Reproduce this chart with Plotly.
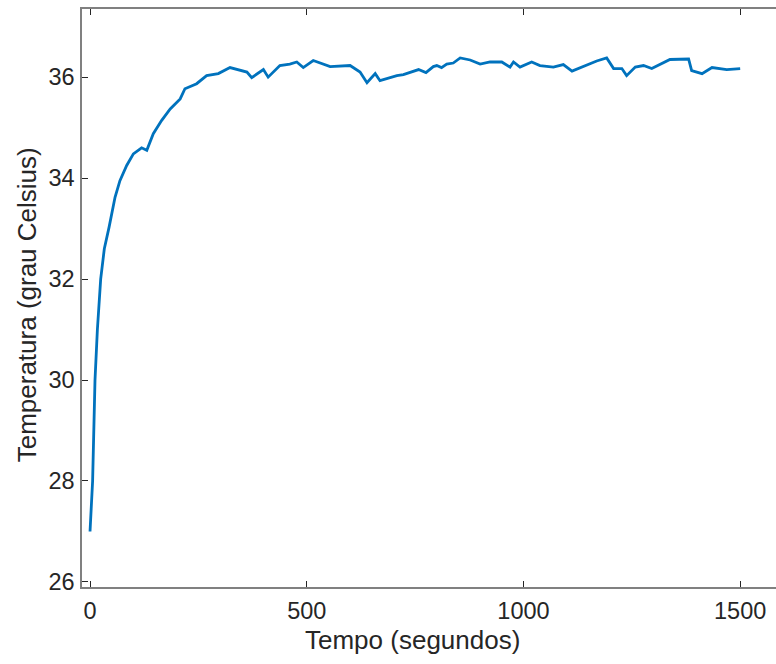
import plotly.graph_objects as go

# Temperature readings
tempo = [0, 6, 11.5, 17, 24.6, 33, 44, 57.7, 69, 84.6, 100, 119, 131, 146, 165, 185,
         208, 219, 246, 269, 296, 323, 362, 373, 400, 411, 438, 461, 477, 492, 515,
         554, 600, 623, 639, 658, 669, 708, 723, 754, 758, 775, 792, 800, 811, 823,
         838, 854, 877, 900, 923, 950, 969, 977, 992, 1019, 1038, 1069, 1092, 1112,
         1139, 1169, 1192, 1208, 1227, 1238, 1258, 1277, 1296, 1338, 1381, 1388,
         1412, 1435, 1469, 1500]
temperatura = [27.0, 28.0, 30.0, 31.0, 32.0, 32.6, 33.03, 33.62, 33.95, 34.25, 34.48,
               34.6, 34.55, 34.88, 35.14, 35.37, 35.57, 35.77, 35.87, 36.03, 36.07,
               36.19, 36.10, 35.99, 36.15, 36.00, 36.23, 36.26, 36.30, 36.19, 36.33,
               36.21, 36.23, 36.10, 35.89, 36.07, 35.93, 36.03, 36.05, 36.13, 36.15,
               36.09, 36.21, 36.23, 36.19, 36.26, 36.28, 36.38, 36.34, 36.26, 36.30,
               36.30, 36.20, 36.30, 36.20, 36.30, 36.23, 36.20, 36.25, 36.12, 36.21,
               36.32, 36.38, 36.17, 36.17, 36.03, 36.20, 36.23, 36.17, 36.35, 36.36,
               36.13, 36.07, 36.19, 36.15, 36.17]

x_ticks = [0, 500, 1000, 1500]
y_ticks = [26, 28, 30, 32, 34, 36]

FONT = "Liberation Sans, Arial, Helvetica, sans-serif"
TXT = "#262626"

fig = go.Figure()
fig.add_trace(go.Scatter(
    x=tempo, y=temperatura, mode="lines",
    line=dict(color="#0072BD", width=2.8),
))

axis_common = dict(
    showgrid=False, zeroline=False, showline=True,
    linecolor="#808080", linewidth=1.5,
    ticks="inside", ticklen=6, tickwidth=1, tickcolor=TXT,
    tickfont=dict(family=FONT, size=23.5, color=TXT),
)

# the axes box runs past the right edge of the window, as in the reference
fig.update_xaxes(range=[-18.5, 1638], tickvals=x_ticks, mirror="ticks",
                 ticklabelstandoff=2, **axis_common)
fig.update_yaxes(range=[25.9, 37.35], tickvals=y_ticks, mirror=False,
                 ticklabelstandoff=1, **axis_common)

fig.update_layout(
    width=800, height=664,
    margin=dict(l=82, r=0, t=9, b=77),
    plot_bgcolor="white", paper_bgcolor="white",
    showlegend=False,
    annotations=[
        dict(text="Tempo (segundos)", xref="x", yref="paper",
             x=745, y=-0.092, xanchor="center", yanchor="middle",
             showarrow=False, font=dict(family=FONT, size=26, color=TXT)),
        dict(text="Temperatura (grau Celsius)", xref="paper", yref="paper",
             x=-0.0761, y=0.488, xanchor="center", yanchor="middle", textangle=-90,
             showarrow=False, font=dict(family=FONT, size=26, color=TXT)),
    ],
)

# drop the default body margin and any scrollbars so the figure fills the window
fig.write_html("out.html", config={"displayModeBar": False},
               post_script="document.body.style.margin='0';"
                           "document.documentElement.style.overflow='hidden';"
                           "document.body.style.overflow='hidden';")
